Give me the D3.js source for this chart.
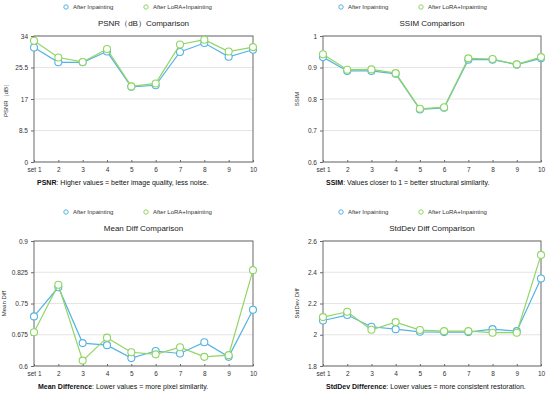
<!DOCTYPE html>
<html>
<head>
<meta charset="utf-8">
<script src="https://cdn.jsdelivr.net/npm/d3@7"></script>
<style>
  body { margin: 0; background: #fff; }
  svg text { font-family: "Liberation Sans", Arial, sans-serif; }
</style>
</head>
<body>
<div id="wrapper"></div>
<script>
const categories = ["set 1", "2", "3", "4", "5", "6", "7", "8", "9", "10"];
const seriesNames = ["After Inpainting", "After LoRA+Inpainting"];

const psnrInpaint = [30.9, 26.9, 26.9, 29.8, 20.3, 20.7, 29.7, 32.1, 28.4, 30.3];
const psnrLora    = [32.7, 28.2, 27.0, 30.5, 20.4, 21.2, 31.7, 33.0, 29.8, 31.0];
const psnrTicks   = [0, 8.5, 17, 25.5, 34];

const ssimInpaint = [0.933, 0.889, 0.889, 0.880, 0.767, 0.772, 0.925, 0.925, 0.909, 0.929];
const ssimLora    = [0.942, 0.893, 0.894, 0.882, 0.769, 0.774, 0.929, 0.927, 0.910, 0.933];
const ssimTicks   = [0.6, 0.7, 0.8, 0.9, 1];

const meanInpaint = [0.719, 0.789, 0.655, 0.650, 0.619, 0.636, 0.630, 0.657, 0.622, 0.735];
const meanLora    = [0.681, 0.795, 0.613, 0.668, 0.633, 0.628, 0.645, 0.622, 0.626, 0.830];
const meanTicks   = [0.6, 0.675, 0.75, 0.825, 0.9];

const stdInpaint  = [2.091, 2.126, 2.051, 2.036, 2.019, 2.017, 2.017, 2.036, 2.023, 2.360];
const stdLora     = [2.113, 2.147, 2.032, 2.081, 2.030, 2.023, 2.023, 2.013, 2.013, 2.511];
const stdTicks    = [1.8, 2, 2.2, 2.4, 2.6];

const colors = ["#55b3e3", "#8fd663"];

const panels = [
  { x0: 0, y0: 0, left: 34, right: 253, top: 36, bottom: 162,
    title: "PSNR（dB）Comparison", yLabel: "PSNR（dB）", labelX: 8,
    ticks: psnrTicks, series: [psnrInpaint, psnrLora],
    capBold: "PSNR", capRest: ": Higher values = better image quality, less noise.", capX: 37 },
  { x0: 275, y0: 0, left: 323, right: 541, top: 36, bottom: 162,
    title: "SSIM Comparison", yLabel: "SSIM", labelX: 299,
    ticks: ssimTicks, series: [ssimInpaint, ssimLora],
    capBold: "SSIM", capRest: ": Values closer to 1 = better structural similarity.", capX: 326 },
  { x0: 0, y0: 200, left: 34, right: 253, top: 241, bottom: 366,
    title: "Mean Diff Comparison", yLabel: "Mean Diff", labelX: 6,
    ticks: meanTicks, series: [meanInpaint, meanLora],
    capBold: "Mean Difference", capRest: ": Lower values = more pixel similarity.", capX: 38 },
  { x0: 275, y0: 200, left: 323, right: 541, top: 241, bottom: 366,
    title: "StdDev Diff Comparison", yLabel: "StdDev Diff", labelX: 299,
    ticks: stdTicks, series: [stdInpaint, stdLora],
    capBold: "StdDev Difference", capRest: ": Lower values = more consistent restoration.", capX: 326 }
];

const svg = d3.select("#wrapper")
  .append("svg")
    .attr("width", 550)
    .attr("height", 397);

function drawPanel(p) {
  const g = svg.append("g");

  const xScale = d3.scalePoint()
    .domain(categories)
    .range([p.left, p.right]);

  const yScale = d3.scaleLinear()
    .domain(d3.extent(p.ticks))
    .range([p.bottom, p.top]);

  // gridlines
  g.append("g")
    .selectAll("line")
    .data(p.ticks)
    .join("line")
      .attr("x1", p.left)
      .attr("x2", p.right)
      .attr("y1", d => yScale(d))
      .attr("y2", d => yScale(d))
      .attr("stroke", "#dedede")
      .attr("stroke-width", 0.8);

  // frame
  g.append("rect")
    .attr("x", p.left)
    .attr("y", p.top)
    .attr("width", p.right - p.left)
    .attr("height", p.bottom - p.top)
    .attr("fill", "none")
    .attr("stroke", "#6a6a6a")
    .attr("stroke-width", 1);

  const yAxis = g.append("g")
    .attr("transform", `translate(${p.left},0)`)
    .call(d3.axisLeft(yScale).tickValues(p.ticks).tickSize(3).tickPadding(3).tickFormat(d => String(d)));
  yAxis.select(".domain").remove();
  yAxis.selectAll("line").attr("stroke", "#6a6a6a");
  yAxis.selectAll("text").attr("font-size", 6.5).attr("fill", "#333");

  const xAxis = g.append("g")
    .attr("transform", `translate(0,${p.bottom})`)
    .call(d3.axisBottom(xScale).tickSize(2).tickPadding(3));
  xAxis.select(".domain").remove();
  xAxis.selectAll("line").attr("stroke", "#6a6a6a").attr("y1", -2).attr("y2", 0);
  xAxis.selectAll("text").attr("font-size", 6.5).attr("fill", "#333");

  // lines and markers
  p.series.forEach((vals, i) => {
    const pts = vals.map((v, j) => ({ cat: categories[j], v: v }));
    const lineGenerator = d3.line()
      .x(d => xScale(d.cat))
      .y(d => yScale(d.v));
    g.append("path")
      .attr("d", lineGenerator(pts))
      .attr("fill", "none")
      .attr("stroke", colors[i])
      .attr("stroke-width", 1.2);
    g.append("g")
      .selectAll("circle")
      .data(pts)
      .join("circle")
        .attr("cx", d => xScale(d.cat))
        .attr("cy", d => yScale(d.v))
        .attr("r", 3.5)
        .attr("fill", "#fff")
        .attr("stroke", colors[i])
        .attr("stroke-width", 1.1);
  });

  // legend
  const legX = [p.x0 + 66, p.x0 + 146];
  seriesNames.forEach((name, i) => {
    const ly = p.y0 + (p.y0 === 0 ? 7 : 12);
    g.append("circle")
      .attr("cx", legX[i])
      .attr("cy", ly)
      .attr("r", 2.2)
      .attr("fill", "#fff")
      .attr("stroke", colors[i])
      .attr("stroke-width", 1);
    g.append("text")
      .attr("x", legX[i] + 7)
      .attr("y", ly + 2.2)
      .attr("font-size", 6)
      .attr("fill", "#333")
      .text(name);
  });

  // title
  g.append("text")
    .attr("x", (p.left + p.right) / 2)
    .attr("y", p.top - 10)
    .attr("text-anchor", "middle")
    .attr("font-size", 8)
    .attr("fill", "#222")
    .text(p.title);

  // y label
  g.append("text")
    .attr("transform", `translate(${p.labelX},${(p.top + p.bottom) / 2}) rotate(-90)`)
    .attr("text-anchor", "middle")
    .attr("font-size", 6)
    .attr("fill", "#333")
    .text(p.yLabel);

  // caption
  const cap = g.append("text")
    .attr("x", p.capX)
    .attr("y", p.bottom + 23)
    .attr("font-size", 7)
    .attr("fill", "#111");
  cap.append("tspan").attr("font-weight", "bold").text(p.capBold);
  cap.append("tspan").text(p.capRest);
}

panels.forEach(drawPanel);
</script>
</body>
</html>
